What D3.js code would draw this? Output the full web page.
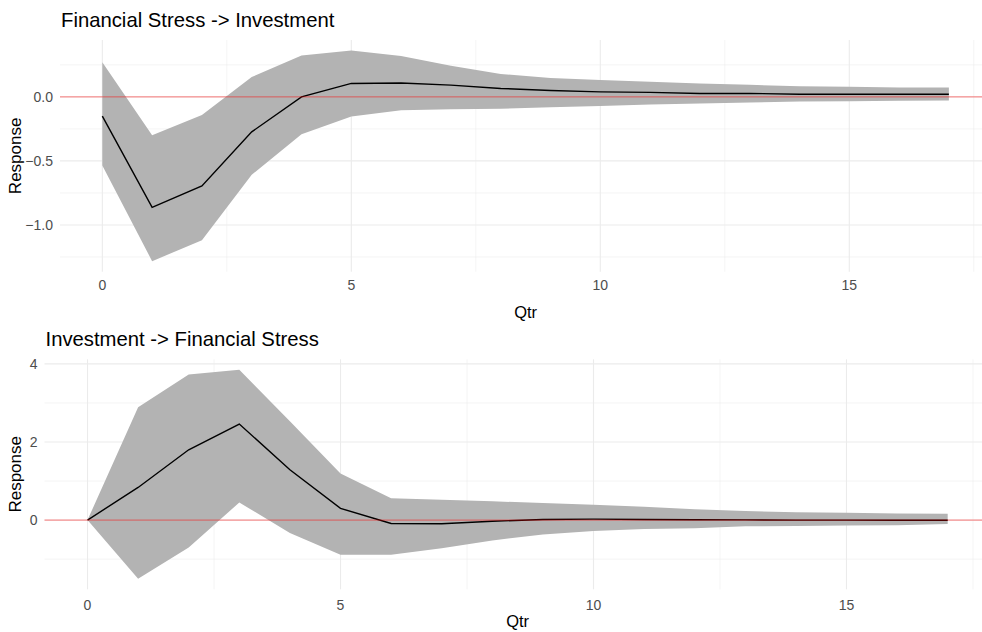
<!DOCTYPE html>
<html>
<head>
<meta charset="utf-8">
<script src="https://cdn.jsdelivr.net/npm/d3@7/dist/d3.min.js"></script>
<style>
  html, body { margin: 0; padding: 0; background: #ffffff; }
  svg { display: block; font-family: "Liberation Sans", Arial, sans-serif; }
</style>
</head>
<body>
<svg id="chart" width="982" height="632"></svg>
<script>
// Impulse responses by quarter, with confidence bands
const qtr = [0, 1, 2, 3, 4, 5, 6, 7, 8, 9, 10, 11, 12, 13, 14, 15, 16, 17];

const fsInvResponse = [-0.150, -0.863, -0.695, -0.273, 0.000, 0.105, 0.108, 0.092, 0.066, 0.050, 0.039, 0.035, 0.027, 0.027, 0.021, 0.021, 0.021, 0.021];
const fsInvLower    = [-0.535, -1.283, -1.120, -0.609, -0.291, -0.154, -0.105, -0.097, -0.092, -0.081, -0.071, -0.060, -0.052, -0.044, -0.036, -0.034, -0.031, -0.029];
const fsInvUpper    = [0.271, -0.299, -0.142, 0.155, 0.323, 0.362, 0.320, 0.244, 0.179, 0.147, 0.131, 0.118, 0.105, 0.094, 0.084, 0.079, 0.074, 0.074];

const invFsResponse = [0, 0.836, 1.800, 2.460, 1.290, 0.300, -0.087, -0.095, -0.030, 0.015, 0.025, 0.015, 0.010, 0.005, 0.000, 0.000, -0.005, -0.005];
const invFsLower    = [0, -1.505, -0.700, 0.450, -0.330, -0.890, -0.890, -0.720, -0.520, -0.370, -0.280, -0.230, -0.210, -0.160, -0.150, -0.140, -0.130, -0.100];
const invFsUpper    = [0, 2.890, 3.730, 3.850, 2.530, 1.190, 0.560, 0.520, 0.480, 0.440, 0.390, 0.340, 0.280, 0.230, 0.200, 0.190, 0.170, 0.165];

const xTicks = [0, 5, 10, 15];
const xMinor = [2.5, 7.5, 12.5, 17.5];

const fsInvYTicks = [-1.0, -0.5, 0.0];
const fsInvYMinor = [-1.25, -0.75, -0.25, 0.25];
const invFsYTicks = [0, 2, 4];
const invFsYMinor = [-1, 1, 3];

const titles = ["Financial Stress -> Investment", "Investment -> Financial Stress"];

const panels = [
  { title: titles[0], mid: fsInvResponse, lo: fsInvLower, hi: fsInvUpper,
    yTicks: fsInvYTicks, yMinor: fsInvYMinor, fmt: d3.format(".1f"),
    left: 60, right: 991.2, top: 40, bottom: 271.7, titleY: 27, tickY: 290, labelY: 318 },
  { title: titles[1], mid: invFsResponse, lo: invFsLower, hi: invFsUpper,
    yTicks: invFsYTicks, yMinor: invFsYMinor, fmt: d3.format("d"),
    left: 44.5, right: 990.7, top: 359.3, bottom: 589.3, titleY: 346, tickY: 609.5, labelY: 627 }
];

const svg = d3.select("#chart");
const gridCol = "#EBEBEB";

panels.forEach(p => {
  const g = svg.append("g");

  // ggplot-style 5% expansion on both axes
  const xExt = d3.extent(qtr);
  const xPad = (xExt[1] - xExt[0]) * 0.05;
  const x = d3.scaleLinear().domain([xExt[0] - xPad, xExt[1] + xPad]).range([p.left, p.right]);

  const yMin = Math.min(0, d3.min(p.lo)), yMax = Math.max(0, d3.max(p.hi));
  const yPad = (yMax - yMin) * 0.05;
  const y = d3.scaleLinear().domain([yMin - yPad, yMax + yPad]).range([p.bottom, p.top]);

  // minor grid
  g.selectAll(".vminor").data(xMinor).enter().append("line")
    .attr("x1", d => x(d)).attr("x2", d => x(d))
    .attr("y1", p.top).attr("y2", p.bottom)
    .attr("stroke", gridCol).attr("stroke-width", 0.55);
  g.selectAll(".hminor").data(p.yMinor).enter().append("line")
    .attr("x1", p.left).attr("x2", p.right)
    .attr("y1", d => y(d)).attr("y2", d => y(d))
    .attr("stroke", gridCol).attr("stroke-width", 0.55);

  // major grid
  g.selectAll(".vmajor").data(xTicks).enter().append("line")
    .attr("x1", d => x(d)).attr("x2", d => x(d))
    .attr("y1", p.top).attr("y2", p.bottom)
    .attr("stroke", gridCol).attr("stroke-width", 1.1);
  g.selectAll(".hmajor").data(p.yTicks).enter().append("line")
    .attr("x1", p.left).attr("x2", p.right)
    .attr("y1", d => y(d)).attr("y2", d => y(d))
    .attr("stroke", gridCol).attr("stroke-width", 1.1);

  // confidence band
  const area = d3.area()
    .x((d, i) => x(qtr[i]))
    .y0((d, i) => y(p.lo[i]))
    .y1((d, i) => y(p.hi[i]));
  g.append("path").datum(p.mid).attr("d", area).attr("fill", "#B3B3B3");

  // response line
  const line = d3.line().x((d, i) => x(qtr[i])).y(d => y(d));
  g.append("path").datum(p.mid).attr("d", line)
    .attr("fill", "none").attr("stroke", "#000000").attr("stroke-width", 1.4);

  // zero reference
  g.append("line")
    .attr("x1", p.left).attr("x2", p.right)
    .attr("y1", y(0)).attr("y2", y(0))
    .attr("stroke", "red").attr("stroke-opacity", 0.5).attr("stroke-width", 1);

  // tick labels
  g.selectAll(".xt").data(xTicks).enter().append("text")
    .attr("x", d => x(d)).attr("y", p.tickY)
    .attr("text-anchor", "middle").attr("font-size", 14).attr("fill", "#4D4D4D")
    .text(d => d);
  g.selectAll(".yt").data(p.yTicks).enter().append("text")
    .attr("x", p.left - 7).attr("y", d => y(d)).attr("dy", "0.35em")
    .attr("text-anchor", "end").attr("font-size", 14).attr("fill", "#4D4D4D")
    .text(d => p.fmt(d));

  // axis titles
  g.append("text")
    .attr("x", (p.left + p.right) / 2).attr("y", p.labelY)
    .attr("text-anchor", "middle").attr("font-size", 16.5).attr("fill", "#000")
    .text("Qtr");
  g.append("text")
    .attr("transform", `translate(21,${(p.top + p.bottom) / 2}) rotate(-90)`)
    .attr("text-anchor", "middle").attr("font-size", 17).attr("fill", "#000")
    .text("Response");

  // panel title
  g.append("text")
    .attr("x", p.left + 1).attr("y", p.titleY)
    .attr("font-size", 20.3).attr("fill", "#000")
    .text(p.title);
});
</script>
</body>
</html>
